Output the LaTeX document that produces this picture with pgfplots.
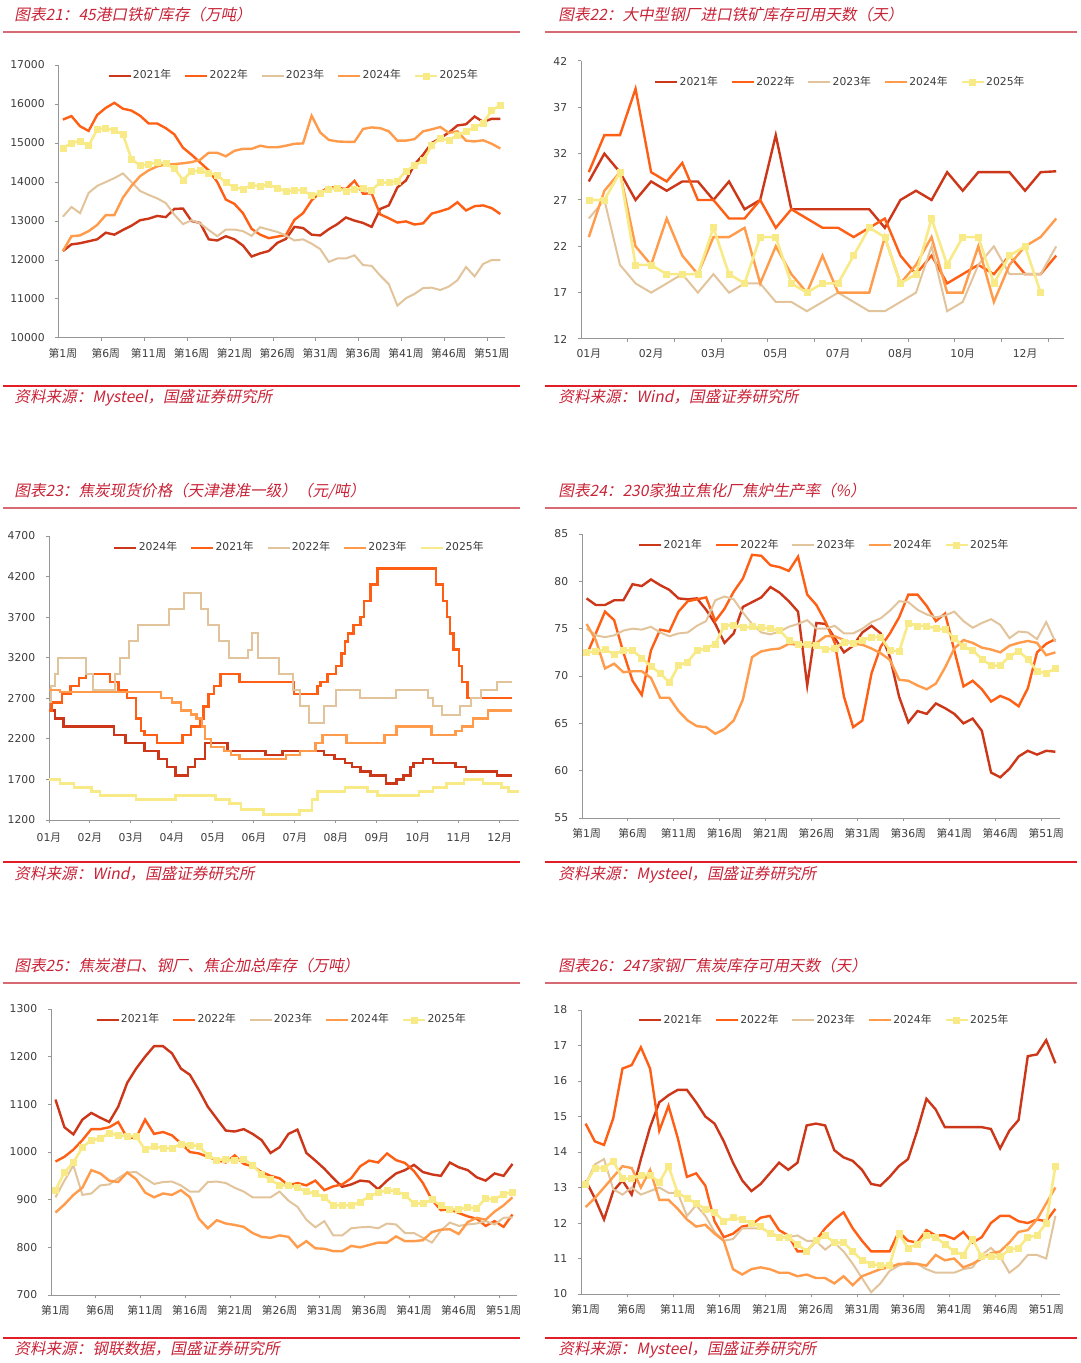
\documentclass[border=0pt]{standalone}
\usepackage{fontspec}
\setmainfont{DejaVu Sans}
\newfontfamily\cjk{Noto Sans CJK SC}
\newfontfamily\cjkit[FakeSlant=0.2]{Noto Sans CJK SC}
\usepackage{pgfplots}
\usepackage{pgfplotstable}
\pgfplotsset{compat=1.18}

\definecolor{c21}{RGB}{205,55,25}
\definecolor{c22}{RGB}{255,95,20}
\definecolor{c23}{RGB}{226,196,156}
\definecolor{c24}{RGB}{255,155,75}
\definecolor{c25}{RGB}{248,234,135}
\definecolor{titlered}{RGB}{200,35,55}
\definecolor{rulepink}{RGB}{215,105,115}
\definecolor{srcred}{RGB}{225,30,40}
\definecolor{axgray}{RGB}{150,150,150}
\definecolor{lblgray}{RGB}{60,60,60}

\newcommand\zh[1]{{\cjk #1}}
\newcommand\wk[1]{\zh{第}#1\zh{周}}
\newcommand\yr[1]{#1\zh{年}}

% weekly data: w, 2021, 2022, 2023, 2024, 2025
\pgfplotstableread{
w a b c d e
1 12230 15600 13110 12230 14870
2 12400 15690 13360 12610 15000
3 12430 15430 13200 12630 15050
4 12480 15310 13720 12740 14930
5 12530 15720 13900 12900 15350
6 12700 15900 14000 13150 15380
7 12650 16030 14100 13150 15330
8 12770 15880 14220 13600 15220
9 12880 15830 14000 13900 14580
10 13020 15700 13770 14150 14430
11 13060 15500 13670 14300 14450
12 13130 15500 13580 14400 14510
13 13100 15380 13460 14450 14470
14 13310 15220 13160 14460 14350
15 13320 14880 12920 14480 14050
16 13000 14700 13020 14510 14270
17 12950 14500 12940 14570 14290
18 12530 14300 12770 14750 14230
19 12500 14000 12610 14750 14180
20 12610 13550 12780 14660 13980
21 12530 13440 12780 14800 13870
22 12370 13200 12740 14850 13820
23 12090 12800 12620 14850 13920
24 12170 12650 12840 14930 13890
25 12230 12560 12780 14890 13930
26 12440 12600 12720 14890 13850
27 12540 12640 12630 14930 13760
28 12850 13030 12500 14980 13790
29 12820 13200 12530 14990 13790
30 12650 13530 12420 15700 13650
31 12630 13730 12280 15270 13720
32 12790 13870 11950 15080 13820
33 12920 13850 12040 15040 13840
34 13090 13820 12040 15030 13770
35 13010 14030 12120 15030 13820
36 12950 13700 11870 15360 13850
37 12850 13710 11850 15400 13790
38 13310 13170 11600 15380 13990
39 13400 13070 11380 15300 13980
40 13860 12960 10830 15060 14030
41 14040 12990 11020 15060 14280
42 14450 12910 11130 15100 14420
43 14700 12940 11280 15300 14550
44 15000 13190 11290 15350 14930
45 15120 13250 11230 15410 15130
46 15270 13320 11320 15260 15060
47 15450 13480 11480 15300 15210
48 15480 13270 11820 15060 15290
49 15680 13380 11580 15040 15410
50 15540 13400 11900 15070 15500
51 15620 13330 12000 14980 15840
52 15620 13180 12000 14860 15970
}\tOre

\pgfplotstableread{
x a b c d e
1 29 30 25 23 27
2 32 34 27 28 27
3 30 34 20 30 30
4 27 39 18 22 20
5 29 30 17 20 20
6 28 29 18 25 19
7 29 31 19 21 19
8 29 27 17 19 19
9 27 27 19 23 24
10 29 25 17 23 19
11 26 25 18 24 18
12 27 27 18 18 23
13 34 24 16 22 23
14 26 26 16 19 18
15 26 25 15 17 17
16 26 24 16 21 18
17 26 24 17 17 18
18 26 23 16 17 21
19 26 24 15 17 24
20 24 25 15 23 23
21 27 21 16 18 18
22 28 19 17 20 19
23 27 21 22 23 25
24 30 18 15 17 20
25 28 19 16 17 23
26 30 20 20 22 23
27 30 19 22 16 18
28 30 21 19 20 21
29 28 19 19 22 22
30 30 19 19 23 17
31 30.1 21 22 25 nan
}\tDays

\pgfplotstableread{
w a b c d e
1 78.2 72.2 75.0 75.5 72.5
2 77.5 74.5 74.3 73.8 72.6
3 77.5 76.8 74.1 70.8 72.8
4 78.0 75.9 74.3 71.3 72.3
5 78.0 72.5 74.8 70.4 72.7
6 79.7 69.5 75.0 70.5 72.7
7 79.5 68.0 74.9 70.5 71.9
8 80.2 72.7 75.2 69.8 71.0
9 79.6 74.9 74.6 67.7 70.3
10 79.1 74.7 74.2 67.7 69.3
11 78.2 76.8 74.5 66.3 71.1
12 78.1 77.9 74.6 65.3 71.5
13 78.2 78.1 75.3 64.7 72.7
14 77.0 78.3 75.8 64.6 72.9
15 75.5 75.8 78.0 63.9 73.4
16 73.5 77.1 78.4 64.4 75.3
17 74.5 78.9 78.1 65.3 75.4
18 77.3 80.3 76.7 67.5 75.1
19 77.8 82.8 75.5 72.0 75.2
20 78.3 82.7 74.6 72.6 75.1
21 79.4 81.7 74.4 72.8 75.0
22 78.8 81.5 74.7 72.9 74.8
23 77.9 81.1 75.2 73.4 73.8
24 76.8 82.6 75.5 73.3 73.4
25 69.0 78.6 75.9 73.3 73.3
26 75.6 77.5 75.0 73.5 73.2
27 75.5 75.7 75.0 74.2 72.8
28 74.0 73.5 75.3 74.2 72.9
29 72.5 67.8 74.5 73.8 73.6
30 73.2 64.6 74.5 73.4 73.5
31 74.6 65.3 75.0 73.3 73.8
32 75.3 70.3 75.7 72.9 74.1
33 74.5 73.1 76.1 72.4 74.1
34 72.0 74.5 76.9 71.7 72.7
35 67.8 76.2 77.9 69.6 72.6
36 65.1 78.6 77.8 69.5 75.6
37 66.3 78.6 77.0 69.0 75.3
38 66.0 77.4 76.5 68.6 75.3
39 67.1 75.8 76.2 69.2 75.0
40 66.6 76.6 76.4 70.9 74.9
41 66.0 72.7 76.8 72.9 74.0
42 65.0 68.9 75.8 73.8 73.1
43 65.5 69.5 75.1 73.5 72.7
44 64.2 68.6 75.6 73.0 71.8
45 59.8 67.3 76.0 72.8 71.1
46 59.3 67.9 75.4 72.5 71.1
47 60.2 67.5 74.0 73.2 72.1
48 61.5 66.8 74.7 73.5 72.6
49 62.1 68.7 74.6 73.7 71.8
50 61.7 72.5 73.9 73.5 70.5
51 62.1 73.4 75.7 72.2 70.3
52 62.0 73.9 73.6 72.5 70.8
}\tOven

\pgfplotstableread{
w a b c d e
1 1110 980 905 873 920
2 1052 990 940 890 957
3 1037 1005 972 910 978
4 1068 1025 910 925 1010
5 1082 1048 913 962 1025
6 1072 1048 930 955 1028
7 1063 1052 932 940 1040
8 1095 1063 945 937 1035
9 1145 1030 957 957 1033
10 1175 1030 958 943 1033
11 1200 1068 945 915 1005
12 1222 1038 933 905 1012
13 1222 1042 937 913 1008
14 1207 1035 938 910 1008
15 1175 1018 930 920 1017
16 1162 1000 917 905 1015
17 1130 997 917 860 1012
18 1095 990 937 840 993
19 1070 983 938 857 983
20 1045 978 935 850 985
21 1043 993 925 847 982
22 1048 975 917 843 985
23 1038 970 905 830 972
24 1025 958 905 822 953
25 998 950 905 820 942
26 1010 945 917 825 930
27 1038 930 898 822 930
28 1047 935 885 800 925
29 998 930 858 813 917
30 982 940 842 798 913
31 965 920 855 797 905
32 945 928 825 792 888
33 927 932 825 792 888
34 932 945 840 803 888
35 940 970 842 800 895
36 938 982 843 805 907
37 922 978 840 810 915
38 940 997 850 810 920
39 955 983 848 823 918
40 962 977 830 813 910
41 973 960 830 813 892
42 958 935 820 815 892
43 953 900 810 832 900
44 950 878 835 837 888
45 978 880 852 838 880
46 968 872 845 828 880
47 962 865 848 853 884
48 947 860 850 862 882
49 940 845 855 858 903
50 955 855 848 875 900
51 950 843 862 888 912
52 975 869 863 905 915
}\tCoke

\pgfplotstableread{
w a b c d e
1 13.2 14.8 13.1 12.45 13.1
2 12.7 14.3 13.65 12.7 13.55
3 12.1 14.2 13.8 13.0 13.55
4 12.9 14.95 12.95 13.3 13.75
5 13.2 16.35 12.8 13.6 13.25
6 12.8 16.45 13.0 13.55 13.25
7 13.8 16.95 12.8 13.0 13.35
8 14.7 16.35 12.9 13.5 13.35
9 15.4 14.6 13.0 12.65 13.15
10 15.6 15.3 12.85 12.65 13.6
11 15.75 14.4 12.85 12.4 12.85
12 15.75 13.3 12.2 12.1 12.7
13 15.4 13.4 12.5 11.9 12.55
14 15.0 13.05 12.2 11.95 12.4
15 14.8 12.05 11.75 11.7 12.3
16 14.3 11.6 11.5 11.5 12.05
17 13.7 11.7 11.55 10.7 12.15
18 13.2 11.9 11.85 10.55 12.1
19 12.9 11.95 11.85 10.7 12.0
20 13.1 12.15 11.85 10.75 11.9
21 13.4 12.2 11.75 10.7 11.7
22 13.7 11.8 11.6 10.6 11.6
23 13.5 11.65 11.6 10.6 11.6
24 13.7 11.2 11.65 10.5 11.4
25 14.75 11.2 11.5 10.55 11.2
26 14.8 11.5 11.5 10.45 11.5
27 14.75 11.85 11.25 10.45 11.65
28 14.05 12.1 11.45 10.3 11.45
29 13.85 12.3 11.2 10.5 11.45
30 13.75 11.85 10.85 10.25 11.2
31 13.5 11.5 10.45 10.5 10.95
32 13.1 11.2 10.05 10.6 10.85
33 13.05 11.2 10.3 10.7 10.8
34 13.3 11.2 10.65 10.75 10.8
35 13.6 11.75 10.8 10.85 11.7
36 13.8 11.5 10.9 10.85 11.3
37 14.6 11.45 10.85 10.85 11.4
38 15.5 11.8 10.7 10.8 11.65
39 15.2 11.65 10.6 11.1 11.6
40 14.7 11.65 10.6 10.95 11.4
41 14.7 11.55 10.6 11.0 11.2
42 14.7 11.75 10.7 10.75 11.1
43 14.7 11.45 10.75 10.85 11.55
44 14.7 11.6 11.1 11.0 11.05
45 14.65 12.0 11.3 11.15 11.05
46 14.1 12.2 11.05 11.2 11.05
47 14.6 12.2 10.6 11.45 11.25
48 14.9 12.05 10.8 11.75 11.3
49 16.7 12.0 11.1 11.8 11.6
50 16.75 12.1 11.1 12.1 11.65
51 17.15 12.05 11.0 12.55 12.0
52 16.5 12.4 12.2 13.0 13.6
}\tCokeDays

\pgfplotsset{
  panel/.style={
    scale only axis, axis lines*=left,
    axis line style={draw=axgray, line width=0.5pt, -},
    tick align=outside, major tick length=1.6pt,
    tick style={draw=axgray, line width=0.5pt},
    ticklabel style={font=\fontsize{5.4}{6}\selectfont, text=lblgray},
    yticklabel style={xshift=-1.8pt},
    xticklabel style={yshift=-1.5pt},
    scaled y ticks=false,
    /pgf/number format/1000 sep={},
    /pgf/number format/assume math mode=true,
    legend columns=5,
    legend style={draw=none, fill=none, anchor=center,
      font=\fontsize{5.4}{6}\selectfont, text=lblgray,
      inner sep=0pt, nodes={inner sep=0.6pt},
      /tikz/every even column/.append style={column sep=5.8pt}},
    legend image code/.code={\draw[mark repeat=2,mark phase=2,#1]
      plot coordinates {(0pt,0pt) (5.5pt,0pt) (11pt,0pt)};},
  },
  weekly/.style={
    xmin=0.5, xmax=52.5,
    xtick={5.5,10.5,...,50.5}, xticklabels={},
    extra x ticks={1,6,...,51},
    extra x tick labels={\wk{1},\wk{6},\wk{11},\wk{16},\wk{21},\wk{26},\wk{31},\wk{36},\wk{41},\wk{46},\wk{51}},
    extra x tick style={major tick length=0pt},
  },
  s21/.style={draw=c21, line width=1.2pt, no marks},
  s22/.style={draw=c22, line width=1.2pt, no marks},
  s23/.style={draw=c23, line width=1.0pt, no marks},
  s24/.style={draw=c24, line width=1.2pt, no marks},
  s25/.style={draw=c25, line width=1.3pt, mark=square*, mark size=1.5pt,
    mark options={fill=c25, draw=c25, line width=0.3pt}},
  s25l/.style={draw=c25, line width=1.3pt, no marks},
}

\newcommand\ttl[3]{\node[anchor=base west, inner sep=0pt, text=titlered,
  font=\cjkit\fontsize{7.8}{9}\selectfont] at (#1,#2) {#3};}
\newcommand\src[3]{\node[anchor=base west, inner sep=0pt, text=titlered,
  font=\cjkit\fontsize{7.8}{9}\selectfont] at (#1,#2) {#3};}

\begin{document}
\begin{tikzpicture}
\useasboundingbox (0pt,0pt) rectangle (540pt,-681.5pt);

% ---- frames: titles, rules, sources
\ttl{7pt}{-10.3pt}{图表21：45港口铁矿库存（万吨）}
\ttl{279pt}{-10.3pt}{图表22：大中型钢厂进口铁矿库存可用天数（天）}
\ttl{7pt}{-248pt}{图表23：焦炭现货价格（天津港准一级）（元/吨）}
\ttl{279pt}{-248pt}{图表24：230家独立焦化厂焦炉生产率（\%）}
\ttl{7pt}{-485.5pt}{图表25：焦炭港口、钢厂、焦企加总库存（万吨）}
\ttl{279pt}{-485.5pt}{图表26：247家钢厂焦炭库存可用天数（天）}

\foreach \yy in {-16pt,-254pt,-491.5pt}{
  \draw[rulepink, line width=0.9pt] (1.5pt,\yy) -- (260pt,\yy);
  \draw[rulepink, line width=0.9pt] (272.5pt,\yy) -- (538.5pt,\yy);
}
\foreach \yy in {-193pt,-431pt,-669pt}{
  \draw[srcred, line width=0.6pt] (1.5pt,\yy) -- (260pt,\yy);
  \draw[srcred, line width=0.6pt] (272.5pt,\yy) -- (538.5pt,\yy);
}
\src{7pt}{-201.5pt}{资料来源：Mysteel，国盛证券研究所}
\src{279pt}{-201.5pt}{资料来源：Wind，国盛证券研究所}
\src{7pt}{-439.5pt}{资料来源：Wind，国盛证券研究所}
\src{279pt}{-439.5pt}{资料来源：Mysteel，国盛证券研究所}
\src{7pt}{-677pt}{资料来源：钢联数据，国盛证券研究所}
\src{279pt}{-677pt}{资料来源：Mysteel，国盛证券研究所}

% ---- chart 21
\begin{axis}[panel, weekly, anchor=south west, at={(29.3pt,-169pt)},
  width=223pt, height=136.5pt,
  ymin=10000, ymax=17000, ytick={10000,11000,...,17000},
  legend style={at={(0.526,0.96)}}]
\addplot[s21] table[x=w,y=a]{\tOre};
\addplot[s22] table[x=w,y=b]{\tOre};
\addplot[s23] table[x=w,y=c]{\tOre};
\addplot[s24] table[x=w,y=d]{\tOre};
\addplot[s25] table[x=w,y=e]{\tOre};
\legend{\yr{2021},\yr{2022},\yr{2023},\yr{2024},\yr{2025}}
\end{axis}

% ---- chart 22
\begin{axis}[panel, anchor=south west, at={(290.5pt,-169.5pt)},
  width=241.5pt, height=139pt,
  xmin=0.5, xmax=31.5,
  xtick={3.5,6.5,...,30.5}, xticklabels={},
  extra x ticks={1,5,9,13,17,21,25,29},
  extra x tick labels={01\zh{月},02\zh{月},03\zh{月},05\zh{月},07\zh{月},08\zh{月},10\zh{月},12\zh{月}},
  extra x tick style={major tick length=0pt},
  ymin=12, ymax=42, ytick={12,17,...,42},
  legend style={at={(0.536,0.924)}}]
\addplot[s21] table[x=x,y=a]{\tDays};
\addplot[s22] table[x=x,y=b]{\tDays};
\addplot[s23] table[x=x,y=c]{\tDays};
\addplot[s24] table[x=x,y=d]{\tDays};
\addplot[s25] table[x=x,y=e]{\tDays};
\legend{\yr{2021},\yr{2022},\yr{2023},\yr{2024},\yr{2025}}
\end{axis}

% ---- chart 23 (x in months from 1 Jan)
\begin{axis}[panel, anchor=south west, at={(24.5pt,-410pt)},
  width=235pt, height=142pt,
  xmin=0, xmax=11.47, xtick={0,1,...,11},
  xticklabels={01\zh{月},02\zh{月},03\zh{月},04\zh{月},05\zh{月},06\zh{月},07\zh{月},08\zh{月},09\zh{月},10\zh{月},11\zh{月},12\zh{月}},
  ymin=1200, ymax=4700, ytick={1200,1700,...,4700},
  legend style={at={(0.532,0.958)}}]
\addplot[s21, const plot] coordinates {
 (0,2550)(0.14,2450)(0.35,2350)(1.58,2250)(1.87,2150)(2.33,2050)(2.67,1950)
 (2.88,1850)(3.09,1750)(3.39,1850)(3.56,1950)(3.81,2150)(4.36,2050)(5.28,2000)
 (5.70,2050)(6.71,2000)(6.97,1950)(7.22,1900)(7.39,1850)(7.60,1800)(7.85,1750)
 (8.23,1650)(8.48,1700)(8.65,1750)(8.82,1850)(8.90,1900)(9.12,1950)(9.37,1900)
 (9.92,1850)(10.17,1800)(10.93,1750)(11.31,1750)};
\addplot[s22, const plot] coordinates {
 (0,2550)(0.06,2650)(0.31,2750)(0.52,2850)(0.73,2950)(0.90,3000)(1.49,2900)
 (1.70,2800)(1.91,2700)(2.12,2450)(2.25,2300)(2.33,2250)(2.63,2150)(3.26,2250)
 (3.47,2350)(3.68,2450)(3.77,2600)(3.89,2750)(4.02,2850)(4.19,3000)(4.65,2900)
 (5.98,2750)(6.55,2850)(6.63,2900)(6.80,3000)(7.01,3100)(7.14,3250)(7.22,3400)
 (7.30,3500)(7.43,3600)(7.60,3700)(7.68,3900)(7.85,4100)(8.02,4300)(9.45,4100)
 (9.62,3900)(9.71,3700)(9.79,3500)(9.87,3300)(10.0,3100)(10.08,2900)(10.21,2700)
 (11.31,2700)};
\addplot[s23, const plot] coordinates {
 (0,2650)(0.06,2850)(0.14,3000)(0.23,3200)(0.90,3000)(1.07,2800)(1.62,3000)
 (1.74,3200)(1.95,3400)(2.17,3600)(2.92,3800)(3.30,4000)(3.72,3800)(3.89,3600)
 (4.14,3400)(4.40,3200)(4.86,3300)(4.95,3500)(5.11,3200)(5.62,3000)(5.96,2800)
 (6.12,2600)(6.34,2400)(6.71,2600)(7.01,2800)(7.60,2700)(8.48,2800)(9.24,2700)
 (9.37,2600)(9.58,2500)(10.04,2600)(10.29,2700)(10.55,2800)(10.93,2900)(11.31,2900)};
\addplot[s24, const plot] coordinates {
 (0,2800)(0.27,2780)(2.73,2700)(3.0,2650)(3.22,2550)(3.47,2500)(3.60,2450)
 (3.73,2350)(3.81,2200)(3.95,2100)(4.27,2050)(4.44,2000)(4.65,1950)(5.79,2000)
 (6.13,2050)(6.50,2150)(6.67,2250)(7.26,2150)(8.19,2250)(8.48,2350)(9.33,2250)
 (9.92,2300)(10.08,2350)(10.34,2450)(10.72,2550)(11.31,2550)};
\addplot[s25l, const plot] coordinates {
 (0,1700)(0.27,1650)(0.61,1600)(1.03,1550)(1.24,1500)(2.12,1450)(3.09,1500)
 (4.06,1450)(4.40,1400)(4.69,1330)(5.24,1270)(6.12,1320)(6.42,1450)(6.55,1550)
 (7.22,1600)(7.77,1550)(8.02,1500)(9.03,1550)(9.37,1600)(9.70,1650)(10.13,1700)
 (10.59,1650)(11.05,1600)(11.22,1550)(11.47,1550)};
\legend{\yr{2024},\yr{2021},\yr{2022},\yr{2023},\yr{2025}}
\end{axis}

% ---- chart 24
\begin{axis}[panel, weekly, anchor=south west, at={(291pt,-409pt)},
  width=239pt, height=142pt,
  ymin=55, ymax=85, ytick={55,60,...,85},
  legend style={at={(0.506,0.961)}}]
\addplot[s21] table[x=w,y=a]{\tOven};
\addplot[s22] table[x=w,y=b]{\tOven};
\addplot[s23] table[x=w,y=c]{\tOven};
\addplot[s24] table[x=w,y=d]{\tOven};
\addplot[s25] table[x=w,y=e]{\tOven};
\legend{\yr{2021},\yr{2022},\yr{2023},\yr{2024},\yr{2025}}
\end{axis}

% ---- chart 25
\begin{axis}[panel, weekly, anchor=south west, at={(25.5pt,-647.5pt)},
  width=233pt, height=143pt,
  ymin=700, ymax=1300, ytick={700,800,...,1300},
  legend style={at={(0.494,0.962)}}]
\addplot[s21] table[x=w,y=a]{\tCoke};
\addplot[s22] table[x=w,y=b]{\tCoke};
\addplot[s23] table[x=w,y=c]{\tCoke};
\addplot[s24] table[x=w,y=d]{\tCoke};
\addplot[s25] table[x=w,y=e]{\tCoke};
\legend{\yr{2021},\yr{2022},\yr{2023},\yr{2024},\yr{2025}}
\end{axis}

% ---- chart 26
\begin{axis}[panel, weekly, anchor=south west, at={(290.5pt,-647pt)},
  width=239.5pt, height=142pt,
  ymin=10, ymax=18, ytick={10,11,...,18},
  legend style={at={(0.507,0.965)}}]
\addplot[s21] table[x=w,y=a]{\tCokeDays};
\addplot[s22] table[x=w,y=b]{\tCokeDays};
\addplot[s23] table[x=w,y=c]{\tCokeDays};
\addplot[s24] table[x=w,y=d]{\tCokeDays};
\addplot[s25] table[x=w,y=e]{\tCokeDays};
\legend{\yr{2021},\yr{2022},\yr{2023},\yr{2024},\yr{2025}}
\end{axis}
\end{tikzpicture}
\end{document}
